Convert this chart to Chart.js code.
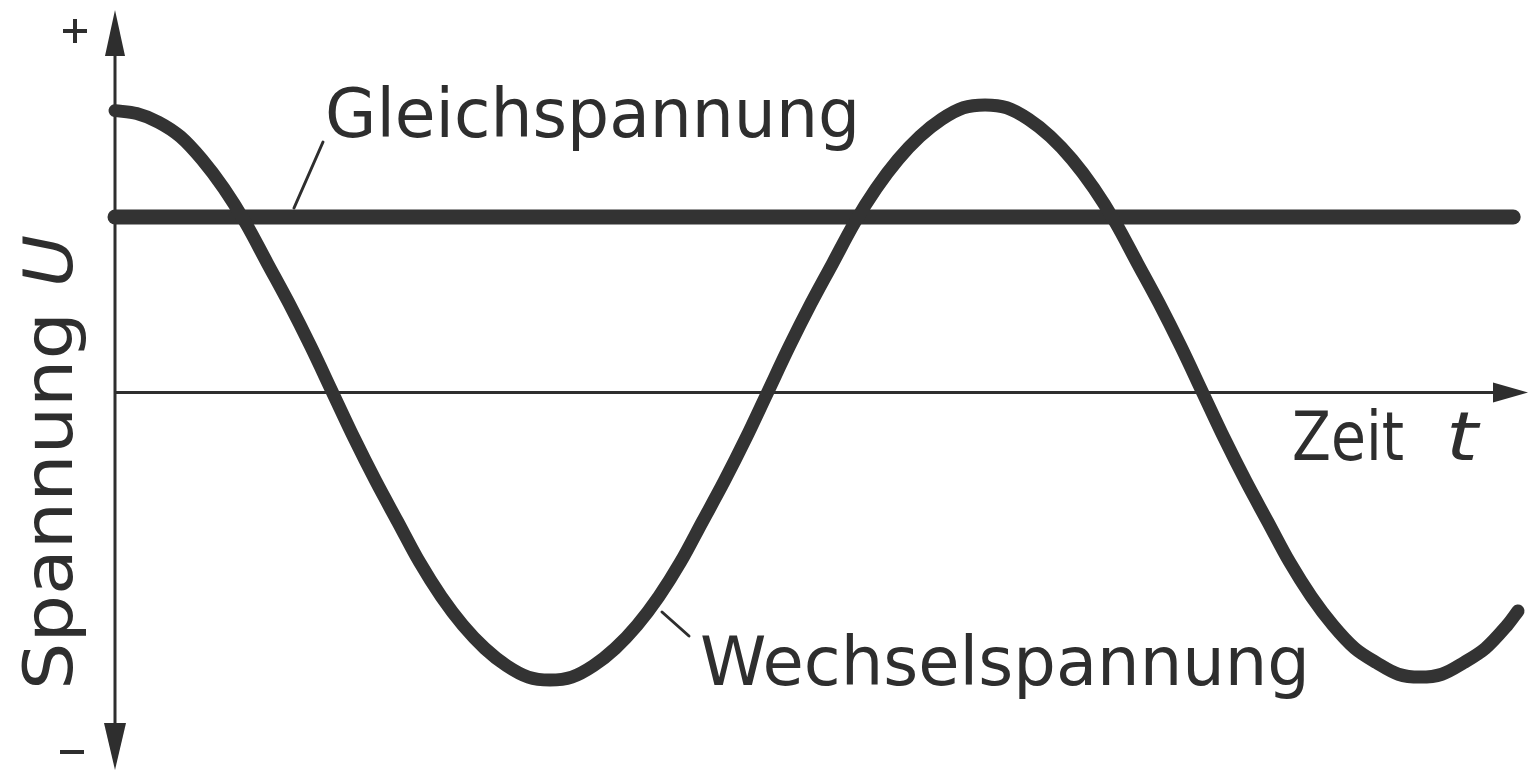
<!DOCTYPE html>
<html lang="de">
<head>
<meta charset="utf-8">
<title>Gleichspannung und Wechselspannung</title>
<script src="https://cdn.jsdelivr.net/npm/chart.js@4/dist/chart.umd.min.js"></script>
<style>
  html, body { margin: 0; padding: 0; background: #ffffff; }
  #wrap { width: 1528px; height: 772px; position: relative; }
</style>
</head>
<body>
<div id="wrap"><canvas id="chart"></canvas></div>
<script>
// Zeit t in ms (eine Periode = 20 ms), Abtastung alle 0,5 ms
const timeMs = [0, 0.5, 1, 1.5, 2, 2.5, 3, 3.5, 4, 4.5, 5, 5.5, 6, 6.5, 7, 7.5, 8, 8.5, 9, 9.5,
                10, 10.5, 11, 11.5, 12, 12.5, 13, 13.5, 14, 14.5, 15, 15.5, 16, 16.5, 17, 17.5, 18, 18.5, 19, 19.5,
                20, 20.5, 21, 21.5, 22, 22.5, 23, 23.5, 24, 24.5, 25, 25.5, 26, 26.5, 27, 27.5, 28, 28.5, 29, 29.5,
                30, 30.5, 31, 31.5, 32, 32.25];
// Wechselspannung, bezogen auf den Scheitelwert
const wechselspannung = [
   0.98,  0.97,  0.94,  0.89,  0.81,  0.71,  0.59,  0.45,  0.31,  0.16,
   0.00, -0.16, -0.31, -0.45, -0.59, -0.71, -0.81, -0.89, -0.95, -0.99,
  -1.00, -0.99, -0.95, -0.89, -0.81, -0.71, -0.59, -0.45, -0.31, -0.16,
   0.00,  0.16,  0.31,  0.45,  0.59,  0.71,  0.81,  0.89,  0.95,  0.99,
   1.00,  0.99,  0.95,  0.89,  0.81,  0.71,  0.59,  0.45,  0.31,  0.16,
   0.00, -0.16, -0.31, -0.45, -0.59, -0.71, -0.81, -0.89, -0.94, -0.98,
  -0.99, -0.98, -0.94, -0.89, -0.81, -0.76];
// Gleichspannung: konstanter Wert über die ganze Zeitachse
const gleichTime = [0, 32.14];
const gleichspannung = [0.61, 0.61];

// Achsgrenzen
const tMax = 32.48;
const uMin = -1.313;
const uMax = 1.33;

// Beschriftungen
const labelGleich = 'Gleichspannung';
const labelWechsel = 'Wechselspannung';
const labelZeit = 'Zeit';
const labelZeitSym = 't';
const labelSpannung = 'Spannung';
const labelSpannungSym = 'U';

const toPoints = (xs, ys) => xs.map((x, i) => ({ x, y: ys[i] }));

const INK = '#2e2e2e';
const FONT = '"DejaVu Sans", "Liberation Sans", sans-serif';

function fitText(ctx, str, x, y, width, size, italic) {
  ctx.save();
  ctx.font = (italic ? 'italic ' : '') + size + 'px ' + FONT;
  const w = ctx.measureText(str).width;
  ctx.translate(x, y);
  ctx.scale(width / w, 1);
  ctx.textBaseline = 'alphabetic';
  ctx.textAlign = 'left';
  ctx.fillText(str, 0, 0);
  ctx.restore();
}

function arrowHead(ctx, tipX, tipY, baseX, baseY, halfW) {
  const dx = tipX - baseX, dy = tipY - baseY;
  const len = Math.hypot(dx, dy);
  const nx = -dy / len, ny = dx / len;
  ctx.beginPath();
  ctx.moveTo(tipX, tipY);
  ctx.lineTo(baseX + nx * halfW, baseY + ny * halfW);
  ctx.lineTo(baseX - nx * halfW, baseY - ny * halfW);
  ctx.closePath();
  ctx.fill();
}

// Koordinatenachsen mit Pfeilspitzen
const axesPlugin = {
  id: 'axes',
  beforeDatasetsDraw(chart) {
    const { ctx, scales: { x, y } } = chart;
    const x0 = x.getPixelForValue(0);
    const y0 = y.getPixelForValue(0);
    const top = y.getPixelForValue(uMax);
    const bottom = y.getPixelForValue(uMin);
    const right = x.getPixelForValue(tMax);
    ctx.save();
    ctx.strokeStyle = INK;
    ctx.fillStyle = INK;
    ctx.lineWidth = 3;
    ctx.beginPath();
    ctx.moveTo(x0, top + 30);
    ctx.lineTo(x0, bottom - 30);
    ctx.moveTo(x0, y0);
    ctx.lineTo(right - 20, y0);
    ctx.stroke();
    arrowHead(ctx, x0, top, x0, top + 46, 10);
    arrowHead(ctx, x0, bottom, x0, bottom - 47, 11);
    arrowHead(ctx, right, y0, right - 35, y0, 10);
    ctx.restore();
  }
};

// Texte, Hinweislinien und Vorzeichen
const labelPlugin = {
  id: 'labels',
  afterDatasetsDraw(chart) {
    const { ctx } = chart;
    ctx.save();
    ctx.fillStyle = INK;
    ctx.strokeStyle = INK;

    fitText(ctx, labelGleich, 325, 137, 535, 68, false);
    fitText(ctx, labelWechsel, 700, 685, 610, 68, false);
    fitText(ctx, labelZeit, 1292, 460, 112, 68, false);
    fitText(ctx, labelZeitSym, 1446, 460, 32, 68, true);

    // senkrechte Achsbeschriftung
    ctx.save();
    ctx.translate(72, 690);
    ctx.rotate(-Math.PI / 2);
    fitText(ctx, labelSpannung, 0, 0, 378, 68, false);
    fitText(ctx, labelSpannungSym, 403, 0, 52, 68, true);
    ctx.restore();

    // Hinweislinien
    ctx.lineWidth = 3;
    ctx.lineCap = 'round';
    ctx.beginPath();
    ctx.moveTo(294, 208);
    ctx.lineTo(323, 142);
    ctx.moveTo(662, 612);
    ctx.lineTo(689, 636);
    ctx.stroke();

    // Vorzeichen + und -
    ctx.lineWidth = 4;
    ctx.lineCap = 'butt';
    ctx.beginPath();
    ctx.moveTo(63, 31); ctx.lineTo(87, 31);
    ctx.moveTo(75, 19); ctx.lineTo(75, 43);
    ctx.moveTo(60, 752); ctx.lineTo(84, 752);
    ctx.stroke();
    ctx.restore();
  }
};

new Chart(document.getElementById('chart'), {
  type: 'line',
  data: {
    datasets: [
      {
        label: labelGleich,
        data: toPoints(gleichTime, gleichspannung),
        borderColor: '#333333',
        borderWidth: 15,
        borderCapStyle: 'round',
        pointRadius: 0,
        clip: false,
        order: 2
      },
      {
        label: labelWechsel,
        data: toPoints(timeMs, wechselspannung),
        borderColor: '#333333',
        borderWidth: 13,
        borderCapStyle: 'round',
        borderJoinStyle: 'round',
        tension: 0.33,
        pointRadius: 0,
        clip: false,
        order: 1
      }
    ]
  },
  options: {
    responsive: true,
    maintainAspectRatio: false,
    animation: false,
    layout: { padding: { left: 115, right: 0, top: 10, bottom: 2 } },
    scales: {
      x: { type: 'linear', min: 0, max: tMax, display: false },
      y: { type: 'linear', min: uMin, max: uMax, display: false }
    },
    plugins: {
      legend: { display: false },
      tooltip: { enabled: false }
    },
    events: []
  },
  plugins: [axesPlugin, labelPlugin]
});
</script>
</body>
</html>
